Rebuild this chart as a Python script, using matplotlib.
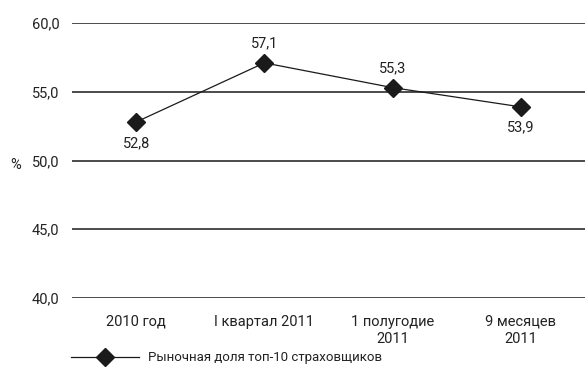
import matplotlib
matplotlib.use("Agg")
import matplotlib.pyplot as plt
from matplotlib.lines import Line2D

plt.rcParams['font.family'] = ['Roboto', 'DejaVu Sans']

categories = ["2010 год", "I квартал 2011", "1 полугодие\n2011", "9 месяцев\n2011"]
values = [52.8, 57.1, 55.3, 53.9]
labels = ["52,8", "57,1", "55,3", "53,9"]
label_pos = ["below", "above", "above", "below"]
yticks = [40, 45, 50, 55, 60]
ytick_labels = ["40,0", "45,0", "50,0", "55,0", "60,0"]
series_name = "Рыночная доля топ-10 страховщиков"

fig = plt.figure(figsize=(5.85, 3.70), dpi=100)
ax = fig.add_axes([72/585, 1-298/370, 513/585, 275/370])

x = list(range(len(categories)))
ax.set_xlim(-0.5, len(categories) - 0.5)
ax.set_ylim(40, 60)

for t in yticks:
    ax.axhline(t, color="#1a1a1a", lw=1.1, zorder=1)

ax.plot(x, values, color="#1a1a1a", lw=0.9, marker="D", markersize=9,
        markerfacecolor="#1a1a1a", markeredgecolor="#1a1a1a", zorder=3, clip_on=False)

for xi, v, lab, pos in zip(x, values, labels, label_pos):
    if pos == "above":
        ax.annotate(lab, (xi, v), xytext=(0, 9), textcoords="offset points",
                    ha="center", va="bottom", fontsize=10.5, color="#222222")
    else:
        ax.annotate(lab, (xi, v), xytext=(0, -10), textcoords="offset points",
                    ha="center", va="top", fontsize=10.5, color="#222222")

ax.set_yticks(yticks)
ax.set_yticklabels(ytick_labels, fontsize=10.5, color="#222222")
ax.set_xticks(x)
ax.set_xticklabels(categories, fontsize=10.5, color="#222222", linespacing=1.3)
ax.tick_params(axis="both", length=0)
ax.tick_params(axis="y", pad=9)
ax.tick_params(axis="x", pad=12)
for s in ax.spines.values():
    s.set_visible(False)

fig.text(10/585, 1-165/370, "%", fontsize=10.5, color="#222222", va="center", ha="left")

handle = Line2D([0], [0], color="#1a1a1a", lw=0.9, marker="D", markersize=9,
                markerfacecolor="#1a1a1a", markeredgecolor="#1a1a1a")
fig.legend([handle], [series_name], loc="center left",
           bbox_to_anchor=(64/585, 1-358/370), frameon=False, fontsize=9.5,
           handlelength=5.2, handletextpad=0.7, borderpad=0, labelcolor="#222222")

fig.savefig("out.png", dpi=100)
